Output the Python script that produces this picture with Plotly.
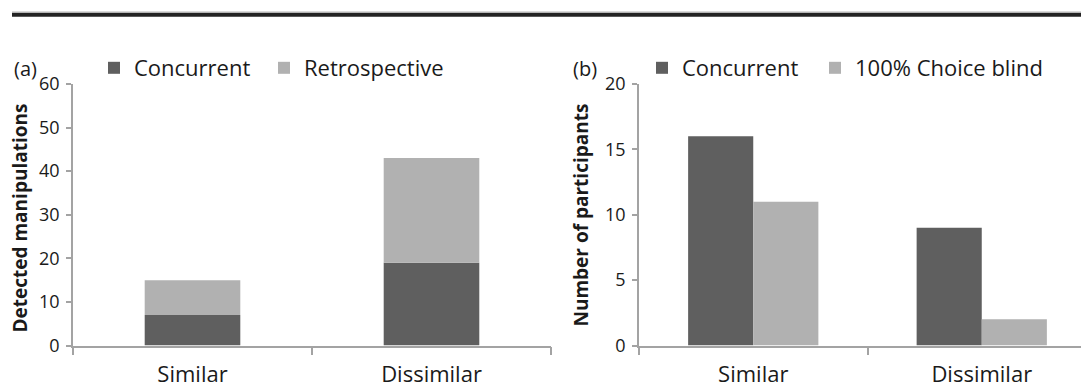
import plotly.graph_objects as go

# Page is rendered with an 8px body margin; size the figure to fit the window.
OFF = 8
PAGE_W, PAGE_H = 1089, 388
FW, FH = PAGE_W - OFF, PAGE_H - OFF

categories = ["Similar", "Dissimilar"]
# Panel (a): stacked detected manipulations
a_concurrent = [7, 19]
a_retrospective = [8, 24]
# Panel (b): number of participants
b_concurrent = [16, 9]
b_choice_blind = [11, 2]

DARK = "#5f5f5f"
LIGHT = "#b1b1b1"
AXIS = "#a3a3a3"
TXT = "#1a1a1a"
FONT = "Open Sans"


def px_x(p):
    """page pixel x -> paper fraction"""
    return (p - OFF) / FW


def px_y(p):
    """page pixel y (from top) -> paper fraction"""
    return 1 - (p - OFF) / FH


fig = go.Figure()

# Panel (a) stacked via shared offsetgroup + base
fig.add_trace(go.Bar(x=categories, y=a_concurrent, name="Concurrent",
                     marker=dict(color=DARK, line=dict(width=0)),
                     offsetgroup="a", width=0.4, xaxis="x", yaxis="y",
                     legend="legend"))
fig.add_trace(go.Bar(x=categories, y=a_retrospective, base=a_concurrent,
                     name="Retrospective",
                     marker=dict(color=LIGHT, line=dict(width=0)),
                     offsetgroup="a", width=0.4, xaxis="x", yaxis="y",
                     legend="legend2"))

# Panel (b) grouped
fig.add_trace(go.Bar(x=categories, y=b_concurrent, name="Concurrent",
                     marker=dict(color=DARK, line=dict(width=0)),
                     offsetgroup="b1", xaxis="x2", yaxis="y2",
                     legend="legend3"))
fig.add_trace(go.Bar(x=categories, y=b_choice_blind, name="100% Choice blind",
                     marker=dict(color=LIGHT, line=dict(width=0)),
                     offsetgroup="b2", xaxis="x2", yaxis="y2",
                     legend="legend4"))

y_dom = [px_y(345.5), px_y(84)]

common_x = dict(type="category", showline=True, linecolor=AXIS, linewidth=1.5,
                ticks="outside", tickson="boundaries", ticklen=8, tickcolor=AXIS,
                tickwidth=1.5, showgrid=False, zeroline=False, automargin=False,
                tickfont=dict(family=FONT, size=22, color=TXT),
                ticklabelstandoff=8)
common_y = dict(showline=True, linecolor=AXIS, linewidth=1.5, ticks="outside",
                ticklen=5, tickcolor=AXIS, tickwidth=1.5, showgrid=False,
                zeroline=False, automargin=False,
                tickfont=dict(family=FONT, size=18, color=TXT),
                ticklabelstandoff=3)


def leg(xpage):
    return dict(orientation="h", x=px_x(xpage), y=px_y(68), xanchor="left",
                yanchor="middle", font=dict(family=FONT, size=22, color=TXT),
                bgcolor="rgba(0,0,0,0)", itemwidth=30)


fig.update_layout(
    template="none",
    width=FW, height=FH,
    margin=dict(l=0, r=0, t=0, b=0, pad=0, autoexpand=False),
    paper_bgcolor="white", plot_bgcolor="white",
    barmode="group", bargap=0.43, bargroupgap=0,
    font=dict(family=FONT, color=TXT),
    xaxis=dict(domain=[px_x(73), px_x(551)], range=[-0.5, 1.5], anchor="y", **common_x),
    yaxis=dict(domain=y_dom, range=[0, 60], dtick=10, anchor="x", **common_y),
    xaxis2=dict(domain=[px_x(639), 1], range=[-0.5, -0.5 + (PAGE_W - 639) / 228.5],
                anchor="y2", **common_x),
    yaxis2=dict(domain=y_dom, range=[0, 20], dtick=5, anchor="x2", **common_y),
    legend=leg(94),
    legend2=leg(264),
    legend3=leg(642),
    legend4=leg(815),
    showlegend=True,
)

annotations = [
    dict(text="(a)", x=px_x(12), y=px_y(69), xref="paper", yref="paper",
         xanchor="left", yanchor="middle", showarrow=False,
         font=dict(family=FONT, size=20, color=TXT)),
    dict(text="(b)", x=px_x(571), y=px_y(69), xref="paper", yref="paper",
         xanchor="left", yanchor="middle", showarrow=False,
         font=dict(family=FONT, size=20, color=TXT)),
    dict(text="<b>Detected manipulations</b>", x=px_x(19), y=px_y(218.5),
         xref="paper", yref="paper", xanchor="center", yanchor="middle",
         textangle=-90, showarrow=False,
         font=dict(family=FONT, size=19, color=TXT)),
    dict(text="<b>Number of participants</b>", x=px_x(580.5), y=px_y(215),
         xref="paper", yref="paper", xanchor="center", yanchor="middle",
         textangle=-90, showarrow=False,
         font=dict(family=FONT, size=19, color=TXT)),
]
fig.update_layout(annotations=annotations)

shapes = [
    dict(type="rect", xref="paper", yref="paper", x0=px_x(12), x1=1,
         y0=px_y(12.9), y1=px_y(11.6), fillcolor="#b5b5b5", line=dict(width=0)),
    dict(type="rect", xref="paper", yref="paper", x0=px_x(12), x1=1,
         y0=px_y(16.8), y1=px_y(12.9), fillcolor="#232323", line=dict(width=0)),
]
fig.update_layout(shapes=shapes)

fig.write_html("out.html")
